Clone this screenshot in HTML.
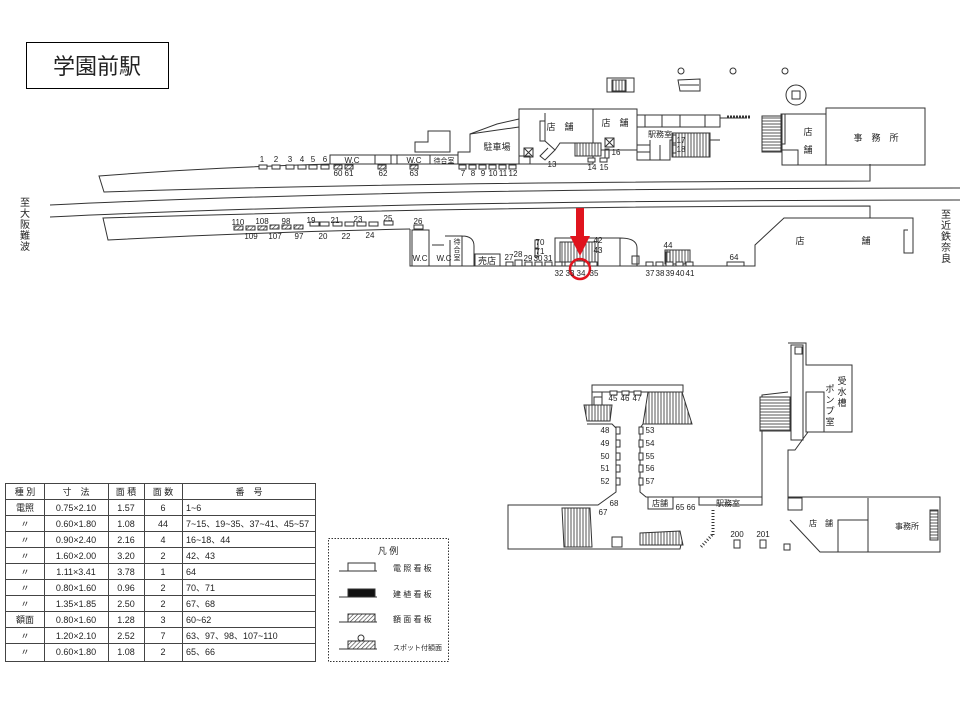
<!DOCTYPE html>
<html><head><meta charset="utf-8"><style>
html,body{margin:0;padding:0;background:#fff}
svg{display:block}
text{font-family:"Liberation Sans","Noto Sans CJK JP",sans-serif;fill:#222}
</style></head><body>
<svg width="960" height="720" viewBox="0 0 960 720" xmlns="http://www.w3.org/2000/svg">
<defs>
<pattern id="h" width="3" height="3" patternUnits="userSpaceOnUse" patternTransform="rotate(45)"><rect width="3" height="3" fill="#fff"/><line x1="0" y1="0" x2="0" y2="3" stroke="#333" stroke-width="1.2"/></pattern>
<pattern id="st" width="3" height="10" patternUnits="userSpaceOnUse"><rect width="3" height="10" fill="#fff"/><line x1="1" y1="0" x2="1" y2="10" stroke="#555" stroke-width="1"/></pattern>
<pattern id="sth" width="10" height="3" patternUnits="userSpaceOnUse"><rect width="10" height="3" fill="#fff"/><line x1="0" y1="1" x2="10" y2="1" stroke="#555" stroke-width="1"/></pattern>
</defs>
<g fill="none" stroke="#333" stroke-width="1">
<!-- title -->
<rect x="26.5" y="42.5" width="142" height="46" stroke="#000"/>
</g>
<text x="97" y="74" font-size="22" text-anchor="middle" fill="#000">学園前駅</text>

<g fill="none" stroke="#333" stroke-width="1">
<!-- tracks -->
<path d="M50 205 Q400 188 960 188"/>
<path d="M50 217 Q400 200 960 200"/>
<!-- upper platform -->
<path d="M330 164 Q200 168 99 176 L104 192 Q400 182 870 181 L870 164"/>
<path d="M330 164 L519 164"/>
<rect x="330" y="155" width="45" height="9"/>
<rect x="375" y="155" width="16" height="9"/>
<rect x="391" y="155" width="6" height="9"/>
<rect x="397" y="155" width="33" height="9"/>
<rect x="430" y="155" width="28" height="9"/>
<path d="M415 152 L415 142 L428 142 L428 131 L450 131 L450 152 Z"/>
<path d="M458 164 L458 152 L470 152 L470 134 L497 124 L519 119"/>
<path d="M470 134 L519 127"/>
<rect x="519" y="109" width="74" height="55"/>
<rect x="593" y="109" width="44" height="41"/>
<path d="M519 156 L530 156 L530 164"/>
<rect x="524" y="148" width="9" height="9"/><path d="M524 148 l9 9 M533 148 l-9 9"/>
<rect x="540" y="121" width="5" height="20"/>
<path d="M545 113 L545 141 L555 150 L545 160 L540 156 L548 148"/>
<path d="M555 150 L560 143 L593 143"/>
<rect x="575" y="143" width="26" height="13" fill="url(#st)"/>
<rect x="605" y="138" width="9" height="9"/><path d="M605 138 l9 9 M614 138 l-9 9"/>
<rect x="605" y="149" width="4" height="9"/>
<rect x="637" y="115" width="83" height="12"/>
<path d="M645 115 v12 M662 115 v12 M680 115 v12 M705 115 v12"/>
<path d="M720 118 L747 118 M637 127 L637 160 L670 160 L670 140 L720 140"/>
<path d="M650 140 v20 M637 145 h13 M637 152 h13 M660 145 v15"/>
<rect x="672" y="133" width="38" height="24" fill="url(#st)"/>
<rect x="672" y="135" width="4" height="8"/><rect x="672" y="145" width="4" height="8"/>
<path d="M727 117 h23" stroke-dasharray="2 1" stroke-width="3"/>
<rect x="762" y="116" width="19" height="36" fill="url(#sth)"/>
<rect x="781" y="114" width="4" height="30"/>
<rect x="782" y="114" width="44" height="51"/>
<rect x="782" y="150" width="16" height="15"/>
<rect x="826" y="108" width="99" height="57"/>
<circle cx="681" cy="71" r="3"/><circle cx="733" cy="71" r="3"/><circle cx="785" cy="71" r="3"/>
<rect x="607" y="78" width="27" height="14"/><rect x="612" y="80" width="14" height="11" fill="url(#st)"/>
<path d="M678 80 L700 79 L700 91 L680 91 Z M680 85 h19"/>
<circle cx="796" cy="95" r="10"/><rect x="792" y="91" width="8" height="8"/>

<!-- lower platform -->
<path d="M870 218 L870 206 Q500 206 103 218 L108 240 Q260 232 410 229"/>
<path d="M410 229 L410 266 L755 266 L755 245 L784 218 L913 218 L913 253 L904 253 L904 230 L908 230"/>
<rect x="412" y="230" width="17" height="36"/>
<path d="M429 237 L429 266 M429 266 L470 266 M450 240 L450 266 M432 245 h12"/>
<path d="M445 236 h17 v30 M462 236 q12 0 12 10 v20"/>
<rect x="475" y="254" width="25" height="12"/>
<rect x="555" y="238" width="43" height="28"/>
<rect x="560" y="242" width="35" height="20" fill="url(#st)"/>
<path d="M598 238 h22 q17 0 17 10 v18 M620 238 v28"/>
<rect x="632" y="256" width="7" height="8"/>
<rect x="665" y="250" width="25" height="14" fill="url(#st)"/>
<rect x="666" y="252" width="4" height="10"/>
<rect x="535" y="240" width="3" height="8"/><rect x="535" y="249" width="3" height="8"/>
</g>

<!-- upper signs -->
<g fill="#fff" stroke="#333" stroke-width="1">
<rect x="259" y="165" width="8" height="4"/><rect x="272" y="165" width="8" height="4"/><rect x="286" y="165" width="8" height="4"/><rect x="298" y="165" width="8" height="4"/><rect x="309" y="165" width="8" height="4"/><rect x="321" y="165" width="8" height="4"/>
<rect x="459" y="165" width="7" height="4"/><rect x="469" y="165" width="7" height="4"/><rect x="479" y="165" width="7" height="4"/><rect x="489" y="165" width="7" height="4"/><rect x="499" y="165" width="7" height="4"/><rect x="509" y="165" width="7" height="4"/>
<rect x="588" y="158" width="7" height="4"/><rect x="600" y="158" width="7" height="4"/>
<rect x="727" y="262" width="17" height="4"/>
<rect x="310" y="222" width="9" height="4"/><rect x="320" y="222" width="9" height="4"/><rect x="333" y="222" width="9" height="4"/><rect x="345" y="222" width="9" height="4"/><rect x="357" y="222" width="9" height="4"/><rect x="369" y="222" width="9" height="4"/><rect x="384" y="221" width="9" height="4"/><rect x="414" y="225" width="9" height="4"/>
<rect x="506" y="262" width="7" height="4"/><rect x="515" y="260" width="7" height="6"/><rect x="525" y="262" width="7" height="4"/><rect x="535" y="262" width="7" height="4"/><rect x="545" y="262" width="7" height="4"/>
<rect x="555" y="262" width="7" height="4"/><rect x="565" y="262" width="7" height="4"/><rect x="575" y="261" width="9" height="5"/><rect x="590" y="262" width="7" height="4"/>
<rect x="646" y="262" width="7" height="4"/><rect x="656" y="262" width="7" height="4"/><rect x="666" y="262" width="7" height="4"/><rect x="676" y="262" width="7" height="4"/><rect x="686" y="262" width="7" height="4"/>
<rect x="535" y="240" width="3" height="8"/>
</g>
<g fill="url(#h)" stroke="#333" stroke-width="1">
<rect x="334" y="165" width="8" height="4"/><rect x="345" y="165" width="8" height="4"/><rect x="378" y="165" width="8" height="4"/><rect x="410" y="165" width="8" height="4"/>
<rect x="234" y="226" width="9" height="4"/><rect x="246" y="226" width="9" height="4"/><rect x="258" y="226" width="9" height="4"/><rect x="270" y="225" width="9" height="4"/><rect x="282" y="225" width="9" height="4"/><rect x="294" y="225" width="9" height="4"/>
</g>

<!-- red arrow -->
<rect x="576" y="208" width="8" height="28" fill="#e0141e"/>
<polygon points="570,236 590,236 580,256" fill="#e0141e"/>
<circle cx="580" cy="269" r="10" fill="none" stroke="#e0141e" stroke-width="2.5"/>

<g font-size="8" text-anchor="middle">
<text x="262" y="162">1</text><text x="276" y="162">2</text><text x="290" y="162">3</text><text x="302" y="162">4</text><text x="313" y="162">5</text><text x="325" y="162">6</text>
<text x="338" y="176">60</text><text x="349" y="176">61</text><text x="383" y="176">62</text><text x="414" y="176">63</text>
<text x="352" y="163">W.C</text><text x="414" y="163">W.C</text><text x="444" y="163" font-size="7">待合室</text>
<text x="463" y="176">7</text><text x="473" y="176">8</text><text x="483" y="176">9</text><text x="493" y="176">10</text><text x="503" y="176">11</text><text x="513" y="176">12</text>
<text x="552" y="167">13</text><text x="592" y="170">14</text><text x="604" y="170">15</text><text x="616" y="155">16</text><text x="681" y="143">17</text><text x="681" y="152">18</text>
<text x="238" y="225">110</text><text x="262" y="224">108</text><text x="286" y="224">98</text><text x="311" y="223">19</text><text x="335" y="223">21</text><text x="358" y="222">23</text><text x="388" y="221">25</text><text x="418" y="224">26</text>
<text x="251" y="239">109</text><text x="275" y="239">107</text><text x="299" y="239">97</text><text x="323" y="239">20</text><text x="346" y="239">22</text><text x="370" y="238">24</text>
<text x="509" y="260">27</text><text x="518" y="257">28</text><text x="528" y="261">29</text><text x="538" y="261">30</text><text x="548" y="261">31</text>
<text x="559" y="276">32</text><text x="570" y="276">33</text><text x="581" y="276">34</text><text x="594" y="276">35</text>
<text x="540" y="245">70</text><text x="540" y="254">71</text><text x="598" y="243">42</text><text x="598" y="253">43</text>
<text x="650" y="276">37</text><text x="660" y="276">38</text><text x="670" y="276">39</text><text x="680" y="276">40</text><text x="690" y="276">41</text>
<text x="668" y="248">44</text><text x="734" y="260">64</text>
<text x="420" y="261">W.C</text><text x="444" y="261">W.C</text><text x="487" y="264" font-size="9">売店</text>
</g>
<g font-size="9" text-anchor="middle">
<text x="497" y="150">駐車場</text><text x="560" y="130">店　舗</text><text x="615" y="126">店　舗</text><text x="660" y="137" font-size="8">駅務室</text>
<text x="808" y="135">店</text><text x="808" y="153">舗</text><text x="876" y="141">事　務　所</text>
<text x="800" y="244">店</text><text x="866" y="244">舗</text>
<text x="457" y="244" font-size="7">待</text><text x="457" y="252" font-size="7">合</text><text x="457" y="260" font-size="7">室</text>
</g>
<g font-size="10" text-anchor="middle">
<text x="25" y="206">至</text><text x="25" y="217">大</text><text x="25" y="228">阪</text><text x="25" y="239">難</text><text x="25" y="250">波</text>
<text x="946" y="218">至</text><text x="946" y="229">近</text><text x="946" y="240">鉄</text><text x="946" y="251">奈</text><text x="946" y="262">良</text>
</g>

<!-- lower right diagram -->
<g fill="none" stroke="#333" stroke-width="1">
<path d="M592 392 L592 385 L683 385 L683 392 Z"/>
<rect x="592" y="392" width="10" height="20"/>
<rect x="594" y="397" width="8" height="8"/>
<path d="M584 405 L612 405 L610 421 L587 421 Z" fill="url(#st)"/>
<path d="M648 392 L682 392 L692 424 L643 424 Z" fill="url(#st)"/>
<path d="M587 424 L612 424 L616 428 L616 492 L598 505 L508 505 L508 549 L680 549 L682 540"/>
<path d="M643 424 L640 428 L640 492 L646 497 L762 497 L762 395 L788 392"/>
<path d="M562 508 L590 508 L592 547 L564 547 Z" fill="url(#st)"/>
<rect x="612" y="537" width="10" height="10"/>
<path d="M640 533 L680 531 L683 545 L640 545 Z" fill="url(#st)"/>
<rect x="760" y="397" width="30" height="34" fill="url(#sth)"/>
<path d="M788 343 L806 343 L806 365 L852 365 L852 432 L808 432 L795 450 L788 450 L788 497 L940 497 L940 552 L820 552 L790 520"/>
<rect x="791" y="345" width="12" height="95"/>
<rect x="795" y="347" width="7" height="7"/>
<rect x="806" y="392" width="18" height="40"/>
<rect x="788" y="498" width="14" height="12"/>
<path d="M868 498 v54 M868 520 h-30 v32"/>
<rect x="930" y="510" width="8" height="30" fill="url(#sth)"/>
<rect x="648" y="497" width="25" height="12"/>
<path d="M699 497 L699 505 L762 505 L762 497"/>
<path d="M713 510 v25 M712 535 L700 548" stroke-width="3" stroke-dasharray="1 2"/>
<rect x="734" y="540" width="6" height="8"/><rect x="760" y="540" width="6" height="8"/><rect x="784" y="544" width="6" height="6"/>
<g fill="#fff"><rect x="616" y="427" width="4" height="7"/><rect x="616" y="440" width="4" height="7"/><rect x="616" y="453" width="4" height="7"/><rect x="616" y="465" width="4" height="7"/><rect x="616" y="478" width="4" height="7"/>
<rect x="639" y="427" width="4" height="7"/><rect x="639" y="440" width="4" height="7"/><rect x="639" y="453" width="4" height="7"/><rect x="639" y="465" width="4" height="7"/><rect x="639" y="478" width="4" height="7"/>
<rect x="610" y="391" width="7" height="4"/><rect x="622" y="391" width="7" height="4"/><rect x="634" y="391" width="7" height="4"/></g>
</g>
<g font-size="8" text-anchor="middle">
<text x="613" y="401">45</text><text x="625" y="401">46</text><text x="637" y="401">47</text>
<text x="605" y="433">48</text><text x="605" y="446">49</text><text x="605" y="459">50</text><text x="605" y="471">51</text><text x="605" y="484">52</text>
<text x="650" y="433">53</text><text x="650" y="446">54</text><text x="650" y="459">55</text><text x="650" y="471">56</text><text x="650" y="484">57</text>
<text x="614" y="506">68</text><text x="603" y="515">67</text><text x="680" y="510">65</text><text x="691" y="510">66</text>
<text x="660" y="506">店舗</text><text x="728" y="506">駅務室</text>
<text x="737" y="537">200</text><text x="763" y="537">201</text>
<text x="821" y="526">店　舗</text><text x="907" y="529">事務所</text>
</g>
<g font-size="9" text-anchor="middle">
<text x="842" y="384">受</text><text x="842" y="395">水</text><text x="842" y="406">槽</text>
<text x="830" y="392">ポ</text><text x="830" y="403">ン</text><text x="830" y="414">プ</text><text x="830" y="425">室</text>
</g>

<!-- table -->
<g fill="none" stroke="#444" stroke-width="1">
<rect x="5.5" y="483.5" width="310" height="178"/>
<path d="M44.5 483 V662 M108.5 483 V662 M144.5 483 V662 M182.5 483 V662"/>
<path d="M5 499.5 H316 M5 515.5 H316 M5 531.5 H316 M5 547.5 H316 M5 563.5 H316 M5 579.5 H316 M5 595.5 H316 M5 611.5 H316 M5 627.5 H316 M5 643.5 H316"/>
</g>
<g font-size="9" fill="#333">
<g text-anchor="middle">
<text x="25" y="495">種 別</text><text x="76" y="495">寸　法</text><text x="126" y="495">面 積</text><text x="163" y="495">面 数</text><text x="249" y="495">番　号</text>
<text x="25" y="511">電照</text><text x="25" y="527">〃</text><text x="25" y="543">〃</text><text x="25" y="559">〃</text><text x="25" y="575">〃</text><text x="25" y="591">〃</text><text x="25" y="607">〃</text><text x="25" y="623">額面</text><text x="25" y="639">〃</text><text x="25" y="655">〃</text>
<text x="76" y="511">0.75×2.10</text><text x="76" y="527">0.60×1.80</text><text x="76" y="543">0.90×2.40</text><text x="76" y="559">1.60×2.00</text><text x="76" y="575">1.11×3.41</text><text x="76" y="591">0.80×1.60</text><text x="76" y="607">1.35×1.85</text><text x="76" y="623">0.80×1.60</text><text x="76" y="639">1.20×2.10</text><text x="76" y="655">0.60×1.80</text>
<text x="126" y="511">1.57</text><text x="126" y="527">1.08</text><text x="126" y="543">2.16</text><text x="126" y="559">3.20</text><text x="126" y="575">3.78</text><text x="126" y="591">0.96</text><text x="126" y="607">2.50</text><text x="126" y="623">1.28</text><text x="126" y="639">2.52</text><text x="126" y="655">1.08</text>
<text x="163" y="511">6</text><text x="163" y="527">44</text><text x="163" y="543">4</text><text x="163" y="559">2</text><text x="163" y="575">1</text><text x="163" y="591">2</text><text x="163" y="607">2</text><text x="163" y="623">3</text><text x="163" y="639">7</text><text x="163" y="655">2</text>
</g>
<text x="186" y="511">1~6</text><text x="186" y="527">7~15、19~35、37~41、45~57</text><text x="186" y="543">16~18、44</text><text x="186" y="559">42、43</text><text x="186" y="575">64</text><text x="186" y="591">70、71</text><text x="186" y="607">67、68</text><text x="186" y="623">60~62</text><text x="186" y="639">63、97、98、107~110</text><text x="186" y="655">65、66</text>
</g>

<!-- legend -->
<g fill="none" stroke="#333" stroke-width="1">
<rect x="328.5" y="538.5" width="120" height="123" stroke-dasharray="1.5 1.5"/>
<path d="M339 571 h38 M339 597 h38 M339 622 h38 M339 649 h38"/>
<rect x="348" y="563" width="27" height="8" fill="#fff"/>
<rect x="348" y="589" width="27" height="8" fill="#111"/>
<rect x="348" y="614" width="27" height="8" fill="url(#h)"/>
<rect x="348" y="641" width="27" height="8" fill="url(#h)"/>
<circle cx="361" cy="638" r="3" fill="#fff"/>
</g>
<g font-size="8" fill="#333">
<text x="388" y="554" text-anchor="middle" font-size="9">凡 例</text>
<text x="393" y="571">電 照 看 板</text><text x="393" y="597">建 植 看 板</text><text x="393" y="622">額 面 看 板</text><text x="393" y="650" font-size="7">スポット付額面</text>
</g>
</svg>
</body></html>
